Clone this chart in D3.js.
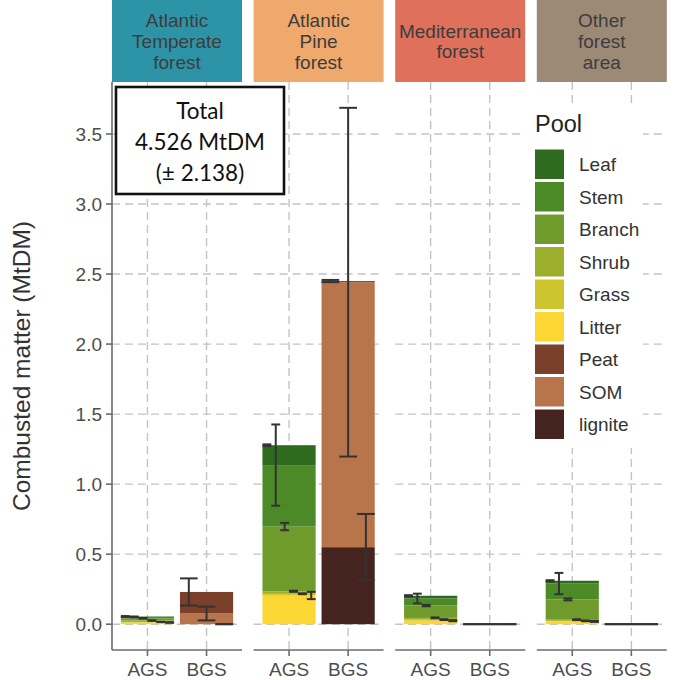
<!DOCTYPE html>
<html>
<head>
<meta charset="utf-8">
<script src="https://cdn.jsdelivr.net/npm/d3@7"></script>
<style>
  body { margin: 0; background: #fff; }
  text { font-family: "Liberation Sans", Arial, sans-serif; }
</style>
</head>
<body>
<div id="chart"></div>
<script>
// data (MtDM)
const forests = ['Atlantic Temperate forest', 'Atlantic Pine forest', 'Mediterranean forest', 'Other forest area']
const stripLabels = [['Atlantic', 'Temperate', 'forest'], ['Atlantic', 'Pine', 'forest'], ['Mediterranean', 'forest'], ['Other', 'forest', 'area']]
const stripColors = ['#2d93a6', '#f0a96c', '#de705c', '#9c8a76']
const groups = ['AGS', 'BGS']
const pools = ['Leaf', 'Stem', 'Branch', 'Shrub', 'Grass', 'Litter', 'Peat', 'SOM', 'lignite']
const poolColors = ['#2e6b1f', '#4c8a28', '#6e9b2c', '#9db02e', '#cec42e', '#fcd734', '#7b402a', '#b8744b', '#452420']
const poolGroup = ['AGS', 'AGS', 'AGS', 'AGS', 'AGS', 'AGS', 'BGS', 'BGS', 'BGS']

// one value per forest, same order as forests
const leaf = [0.003, 0.142, 0.020, 0.020]
const stem = [0.010, 0.439, 0.050, 0.113]
const branch = [0.016, 0.462, 0.088, 0.145]
const shrub = [0.010, 0.018, 0.012, 0.008]
const grass = [0.004, 0.012, 0.008, 0.004]
const litter = [0.012, 0.205, 0.025, 0.020]
const peat = [0.154, 0.008, 0, 0]
const som = [0.076, 1.892, 0, 0]
const lignite = [0, 0.550, 0, 0]

// standard deviations, same layout
const leafSd = [0.003, 0.006, 0.004, 0.004]
const stemSd = [0.003, 0.290, 0.035, 0.076]
const branchSd = [0.002, 0.026, 0.005, 0.007]
const shrubSd = [0.002, 0.004, 0.003, 0.003]
const grassSd = [0.001, 0.003, 0.003, 0.003]
const litterSd = [0.002, 0.026, 0.004, 0.004]
const peatSd = [0.097, 0.008, 0, 0]
const somSd = [0.049, 1.245, 0, 0]
const ligniteSd = [0, 0.237, 0, 0]

const totalLines = ['Total', '4.526 MtDM', '(± 2.138)']

const values = [leaf, stem, branch, shrub, grass, litter, peat, som, lignite]
const sds = [leafSd, stemSd, branchSd, shrubSd, grassSd, litterSd, peatSd, somSd, ligniteSd]

// build stacked rows: first pool level sits on top (ggplot order)
const rows = []
forests.forEach((f, fi) => {
  groups.forEach(g => {
    const idx = pools.map((p, i) => i).filter(i => poolGroup[i] === g)
    let cum = 0
    idx.slice().reverse().forEach(i => {
      const v = values[i][fi]
      rows.push({forest: f, group: g, pool: pools[i], pools: idx.map(j => pools[j]),
        y0: cum, y1: cum + v, sd: sds[i][fi], color: poolColors[i]})
      cum += v
    })
  })
})

const width = 678, height = 680
const panelTop = 82, panelBottom = 650

const svg = d3.select('#chart').append('svg')
  .attr('width', width)
  .attr('height', height)

const yMax = d3.max(rows, d => d.y1 + d.sd)
const pad = yMax * 0.05
const y = d3.scaleLinear().domain([-pad, yMax + pad]).range([panelBottom, panelTop])

const fx = d3.scaleBand().domain(forests).range([112, 666.8]).paddingInner(0.082).paddingOuter(0)
const x = d3.scalePoint().domain(groups).range([0, fx.bandwidth()]).padding(0.6)
const barW = x.step() * 0.9

const yTicks = d3.range(0, 3.51, 0.5)

const panel = svg.selectAll('.panel')
  .data(forests)
  .enter().append('g')
  .attr('class', 'panel')
  .attr('transform', d => `translate(${fx(d)},0)`)

// strips
panel.append('rect')
  .attr('x', 0)
  .attr('y', 0)
  .attr('width', fx.bandwidth())
  .attr('height', panelTop)
  .attr('fill', (d, i) => stripColors[i])
panel.each(function(d, i) {
  const lines = stripLabels[i]
  d3.select(this).selectAll('.strip-text')
    .data(lines)
    .enter().append('text')
    .attr('x', fx.bandwidth() / 2)
    .attr('y', (t, j) => 48 + (j - (lines.length - 1) / 2) * 20.7)
    .attr('text-anchor', 'middle')
    .style('font-size', '19px')
    .style('fill', '#3d3d3d')
    .text(t => t)
})

// dashed grid
panel.selectAll('.hgrid')
  .data(yTicks)
  .enter().append('line')
  .attr('x1', 0)
  .attr('x2', fx.bandwidth())
  .attr('y1', d => y(d))
  .attr('y2', d => y(d))
  .attr('stroke', '#c4c4c4')
  .attr('stroke-width', 1.4)
  .attr('stroke-dasharray', '8,5')
panel.selectAll('.vgrid')
  .data(groups)
  .enter().append('line')
  .attr('x1', d => x(d))
  .attr('x2', d => x(d))
  .attr('y1', panelTop)
  .attr('y2', panelBottom)
  .attr('stroke', '#c4c4c4')
  .attr('stroke-width', 1.4)
  .attr('stroke-dasharray', '8,5')

// stacked bars
panel.each(function(f) {
  const g = d3.select(this)
  const data = rows.filter(r => r.forest === f)
  g.selectAll('.bar')
    .data(data)
    .enter().append('rect')
    .attr('x', d => x(d.group) - barW / 2)
    .attr('width', barW)
    .attr('y', d => y(d.y1))
    .attr('height', d => y(d.y0) - y(d.y1))
    .attr('fill', d => d.color)

  // error bars dodged across the bar, one slot per pool
  const eb = g.selectAll('.err')
    .data(data)
    .enter().append('g')
    .attr('class', 'err')
    .attr('transform', d => {
      const slot = d3.scaleBand().domain(d.pools).range([x(d.group) - barW / 2, x(d.group) + barW / 2])
      d.cx = slot(d.pool) + slot.bandwidth() / 2
      d.w = slot.bandwidth()
      return `translate(${d.cx},0)`
    })
  eb.append('line')
    .attr('x1', 0).attr('x2', 0)
    .attr('y1', d => y(d.y1 + d.sd))
    .attr('y2', d => y(d.y1 - d.sd))
  eb.append('line')
    .attr('x1', d => -d.w / 2).attr('x2', d => d.w / 2)
    .attr('y1', d => y(d.y1 + d.sd))
    .attr('y2', d => y(d.y1 + d.sd))
  eb.append('line')
    .attr('x1', d => -d.w / 2).attr('x2', d => d.w / 2)
    .attr('y1', d => y(d.y1 - d.sd))
    .attr('y2', d => y(d.y1 - d.sd))
  eb.selectAll('line')
    .attr('stroke', '#333')
    .attr('stroke-width', 2)
})

// x axis per panel
panel.append('line')
  .attr('x1', 0)
  .attr('x2', fx.bandwidth())
  .attr('y1', panelBottom)
  .attr('y2', panelBottom)
  .attr('stroke', '#6b6b6b')
  .attr('stroke-width', 1.6)
panel.selectAll('.xtick')
  .data(groups)
  .enter().append('line')
  .attr('x1', d => x(d))
  .attr('x2', d => x(d))
  .attr('y1', panelBottom)
  .attr('y2', panelBottom + 6)
  .attr('stroke', '#6b6b6b')
  .attr('stroke-width', 1.6)
panel.selectAll('.xlab')
  .data(groups)
  .enter().append('text')
  .attr('x', d => x(d))
  .attr('y', 676)
  .attr('text-anchor', 'middle')
  .style('font-size', '19px')
  .style('fill', '#4d4d4d')
  .text(d => d)

// y axis on first panel
const yAxis = svg.append('g')
yAxis.append('line')
  .attr('x1', 112).attr('x2', 112)
  .attr('y1', panelTop).attr('y2', panelBottom)
  .attr('stroke', '#6b6b6b')
  .attr('stroke-width', 1.6)
yAxis.selectAll('.ytick')
  .data(yTicks)
  .enter().append('line')
  .attr('x1', 106).attr('x2', 112)
  .attr('y1', d => y(d)).attr('y2', d => y(d))
  .attr('stroke', '#6b6b6b')
  .attr('stroke-width', 1.6)
yAxis.selectAll('.ylab')
  .data(yTicks)
  .enter().append('text')
  .attr('x', 102)
  .attr('y', d => y(d))
  .attr('dy', '0.35em')
  .attr('text-anchor', 'end')
  .style('font-size', '19px')
  .style('fill', '#4d4d4d')
  .text(d => d3.format('.1f')(d))
svg.append('text')
  .attr('transform', `translate(30,${(panelTop + panelBottom) / 2}) rotate(-90)`)
  .attr('text-anchor', 'middle')
  .style('font-size', '24.5px')
  .style('fill', '#333')
  .text('Combusted matter (MtDM)')

// total annotation box
const box = svg.append('g')
box.append('rect')
  .attr('x', 116)
  .attr('y', 87)
  .attr('width', 168)
  .attr('height', 107)
  .attr('fill', '#fff')
  .attr('stroke', '#111')
  .attr('stroke-width', 2.6)
box.selectAll('text')
  .data(totalLines)
  .enter().append('text')
  .attr('x', 200)
  .attr('y', (d, i) => 119 + i * 31)
  .attr('text-anchor', 'middle')
  .style('font-family', 'Lato, "Open Sans", sans-serif')
  .style('font-size', '22.5px')
  .style('fill', '#111')
  .text(d => d)

// legend inside last panel
const legend = svg.append('g')
legend.append('rect')
  .attr('x', 521)
  .attr('y', 103)
  .attr('width', 122)
  .attr('height', 345)
  .attr('fill', '#fff')
legend.append('text')
  .attr('x', 535)
  .attr('y', 132)
  .style('font-size', '23.5px')
  .style('fill', '#222')
  .text('Pool')
const item = legend.selectAll('.item')
  .data(pools)
  .enter().append('g')
  .attr('transform', (d, i) => `translate(535,${149.5 + i * 32.5})`)
item.append('rect')
  .attr('width', 29)
  .attr('height', 29.5)
  .attr('fill', (d, i) => poolColors[i])
item.append('text')
  .attr('x', 44)
  .attr('y', 15)
  .attr('dy', '0.35em')
  .style('font-size', '19px')
  .style('fill', '#333')
  .text(d => d)
</script>
</body>
</html>
